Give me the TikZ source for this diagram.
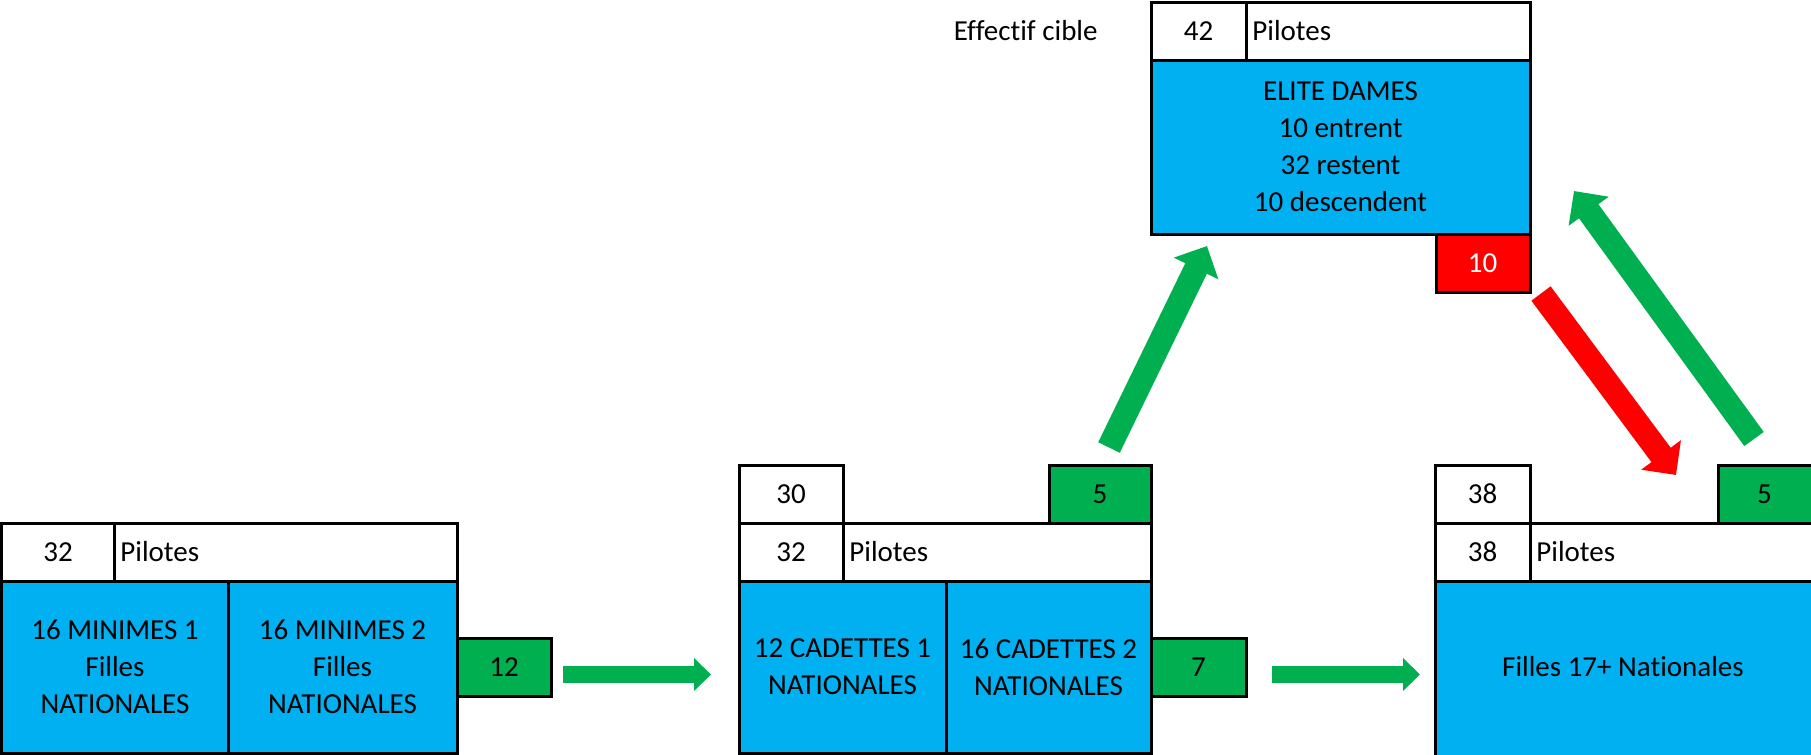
\documentclass[tikz,border=0pt]{standalone}
\usepackage{fontspec}
\setmainfont{Carlito}[Ligatures=NoCommon]
\usepackage{tikz}
\usetikzlibrary{arrows.meta}

\definecolor{cellblue}{HTML}{00B0F0}
\definecolor{flowgreen}{HTML}{00B050}
\definecolor{flowred}{HTML}{FF0000}

\begin{document}
\begin{tikzpicture}[x=0.5pt,y=-0.5pt,
	font=\fontsize{14.5}{18.5}\selectfont,
	box/.style={draw=black,line width=1.5pt},
	txt/.style={align=center,inner sep=0pt},
	lbl/.style={anchor=west,inner sep=0pt},
	bigflow/.style={line width=12pt,-{Triangle[width=24pt,length=12.5pt]}},
	smallflow/.style={line width=8.5pt,-{Triangle[width=16pt,length=8.5pt]},flowgreen}]
	\useasboundingbox (0,0) rectangle (1811,755);

	%minimes
	\draw[box,fill=white] (1.5,523) rectangle (114,581);		%32
	\draw[box,fill=white] (114,523) rectangle (457,581);		%pilotes
	\draw[box,fill=cellblue] (1.5,581) rectangle (228,753);		%minimes 1
	\draw[box,fill=cellblue] (228,581) rectangle (457,753);		%minimes 2
	\draw[box,fill=flowgreen] (457,638) rectangle (551,696);	%12
	\node[txt] (minnb) at (58,552) {32};
	\node[lbl] (minpil) at (120,552) {Pilotes};
	\node[txt] (minun) at (115,667) {16 MINIMES 1\\Filles\\NATIONALES};
	\node[txt] (mindeux) at (342.5,667) {16 MINIMES 2\\Filles\\NATIONALES};
	\node[txt] (minout) at (504,667) {12};

	%cadettes
	\draw[box,fill=white] (739,465) rectangle (843,523);		%30
	\draw[box,fill=flowgreen] (1049,465) rectangle (1151,523);	%5
	\draw[box,fill=white] (739,523) rectangle (843,581);		%32
	\draw[box,fill=white] (843,523) rectangle (1151,581);		%pilotes
	\draw[box,fill=cellblue] (739,581) rectangle (946,753);		%cadettes 1
	\draw[box,fill=cellblue] (946,581) rectangle (1151,753);	%cadettes 2
	\draw[box,fill=flowgreen] (1151,638) rectangle (1246,696);	%7
	\node[txt] (cadprev) at (791,494) {30};
	\node[txt] (cadup) at (1100,494) {5};
	\node[txt] (cadnb) at (791,552) {32};
	\node[lbl] (cadpil) at (849,552) {Pilotes};
	\node[txt] (cadun) at (842.5,667) {12 CADETTES 1\\NATIONALES};
	\node[txt] (caddeux) at (1048.5,667) {16 CADETTES 2\\NATIONALES};
	\node[txt] (cadout) at (1198.5,667) {7};

	%filles 17+
	\draw[box,fill=white] (1435,465) rectangle (1530,523);		%38
	\draw[box,fill=flowgreen] (1718,465) rectangle (1814,523);	%5
	\draw[box,fill=white] (1435,523) rectangle (1530,581);		%38
	\draw[box,fill=white] (1530,523) rectangle (1814,581);		%pilotes
	\draw[box,fill=cellblue] (1435,581) rectangle (1814,756);	%nationales
	\node[txt] (fprev) at (1482.5,494) {38};
	\node[txt] (fup) at (1764.5,494) {5};
	\node[txt] (fnb) at (1482.5,552) {38};
	\node[lbl] (fpil) at (1536,552) {Pilotes};
	\node[txt] (fnat) at (1623,667) {Filles 17+ Nationales};

	%elite
	\draw[box,fill=white] (1151,2) rectangle (1246,60);			%42
	\draw[box,fill=white] (1246,2) rectangle (1530,60);			%pilotes
	\draw[box,fill=cellblue] (1151,60) rectangle (1530,234);	%elite dames
	\draw[box,fill=flowred] (1436,234) rectangle (1530,292);	%10
	\node[txt,anchor=east] (cible) at (1098,31) {Effectif cible};
	\node[txt] (elnb) at (1198.5,31) {42};
	\node[lbl] (elpil) at (1252,31) {Pilotes};
	\node[txt] (elite) at (1340.5,147) {ELITE DAMES\\10 entrent\\32 restent\\10 descendent};
	\node[txt,text=white] (eldown) at (1482.5,263) {10};

	%arrows
	\coordinate (a1) at (563,674.5);
	\coordinate (b1) at (711,674.5);
	\coordinate (a2) at (1272,674.5);
	\coordinate (b2) at (1420,674.5);
	\coordinate (a3) at (1109,447.5);
	\coordinate (b3) at (1207,246);
	\coordinate (a4) at (1541,293.5);
	\coordinate (b4) at (1676,475);
	\coordinate (a5) at (1754,439);
	\coordinate (b5) at (1574,191);
	\draw[smallflow] (a1) -- (b1);
	\draw[smallflow] (a2) -- (b2);
	\draw[bigflow,flowgreen] (a3) -- (b3);		%cadettes up
	\draw[bigflow,flowred] (a4) -- (b4);		%elite down
	\draw[bigflow,flowgreen] (a5) -- (b5);		%17+ up
\end{tikzpicture}
\end{document}
